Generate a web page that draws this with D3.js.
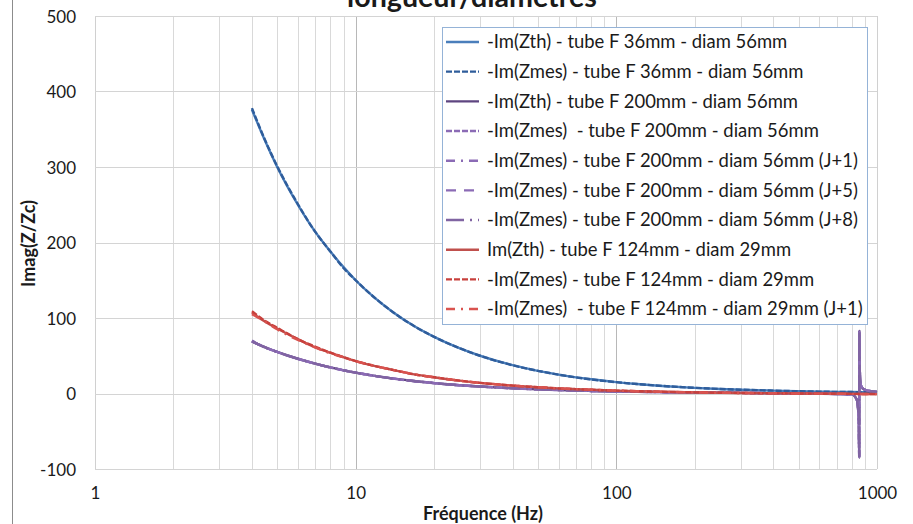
<!DOCTYPE html>
<html>
<head>
<meta charset="utf-8">
<script src="https://cdn.jsdelivr.net/npm/d3@7"></script>
<style>
  html, body { margin: 0; padding: 0; background: #fff; }
  svg { display: block; }
  text { font-family: Lato, "Open Sans", "Liberation Sans", sans-serif; fill: #1a1a1a; }
</style>
</head>
<body>
<svg id="chart" width="913" height="524"></svg>
<script>
// ---------- data ----------
const titleText = "longueur/diamètres";
const xLabel = "Fréquence (Hz)";
const yLabel = "Imag(Z/Zc)";
const xTicks = [1, 10, 100, 1000];
const yTicks = [-100, 0, 100, 200, 300, 400, 500];

// common frequency grid (Hz)
const freq = [4, 4.5, 5, 6, 7, 8, 9, 10, 12, 14, 17, 20, 25, 30, 40, 50, 60, 70, 80, 100, 120, 150, 200, 250, 300, 400, 500, 600, 700, 800, 1000];

// tube F 36mm - diam 56mm
const blueTh  = [376, 334, 300, 250, 214, 188, 167, 150, 125, 107, 88, 75, 60, 50, 37.5, 30, 25, 21.4, 18.8, 15, 12.5, 10, 7.5, 6, 5, 3.8, 3, 2.5, 2.1, 1.9, 1.5];
const blueMes = [378, 335, 301, 251, 214, 188, 166, 150, 125, 107, 88, 75, 60, 50, 37.4, 30, 25, 21.4, 18.7, 15, 12.5, 10, 7.5, 6, 5, 3.8, 3, 2.5, 2.1, 1.9, 1.5];

// tube F 124mm - diam 29mm
const redTh   = [107, 95, 86, 72, 61, 54, 48, 43, 36, 31, 25, 21.5, 17, 14, 10.5, 8.3, 6.8, 5.8, 5, 3.8, 3, 2.3, 1.5, 1, 0.7, 0.3, 0, -0.2, -0.3, -0.5, -0.8];
const redMes  = [109, 96, 87, 72, 62, 54, 48, 43, 36, 31, 25, 21.5, 17, 14, 10.5, 8.3, 6.8, 5.8, 5, 3.8, 3, 2.3, 1.5, 1, 0.7, 0.3, 0, -0.2, -0.3, -0.5, -0.8];
const redMes1 = [105, 95, 85, 71, 61, 53, 48, 43, 36, 31, 25, 21.5, 17, 14, 10.5, 8.3, 6.8, 5.8, 5, 3.8, 3, 2.3, 1.5, 1, 0.7, 0.3, 0, -0.2, -0.3, -0.5, -0.8];

// tube F 200mm - diam 56mm (with resonance near 855 Hz)
const freqP   = [4, 4.5, 5, 6, 7, 8, 9, 10, 12, 14, 17, 20, 25, 30, 40, 50, 60, 70, 80, 100, 120, 150, 200, 250, 300, 400, 500, 600, 700, 800, 836, 848, 852, 854.5, 855.5, 858, 866, 880, 900, 950, 1000];
const purpTh  = [69, 61, 55, 46, 39.5, 34.5, 30.7, 27.6, 23, 19.7, 16.2, 13.8, 11, 9.2, 6.9, 5.5, 4.6, 3.9, 3.4, 2.7, 2.3, 1.8, 1.3, 1, 0.8, 0.4, 0.1, -0.2, -0.6, -1.2, -8, -25, -45, -85, 83, 35, 12, 7, 5, 3, 2];
const purpMes = [70, 61, 55, 46, 39.5, 34.5, 30.7, 27.6, 23, 19.7, 16.2, 13.8, 11, 9.2, 6.9, 5.5, 4.6, 3.9, 3.4, 2.7, 2.3, 1.8, 1.3, 1, 0.8, 0.4, 0.1, -0.2, -0.6, -1.2, -8, -25, -45, -84, 82, 35, 12, 7, 5, 3, 2];
const purpJ1  = [69, 61, 55, 46, 39.5, 34.5, 30.7, 27.6, 23, 19.7, 16.2, 13.8, 11, 9.2, 6.9, 5.5, 4.6, 3.9, 3.4, 2.7, 2.3, 1.8, 1.3, 1, 0.8, 0.4, 0.1, -0.2, -0.6, -1.2, -8, -25, -45, -83, 81, 35, 12, 7, 5, 3, 2];
const purpJ5  = [69, 61, 55, 46, 39.5, 34.5, 30.7, 27.6, 23, 19.7, 16.2, 13.8, 11, 9.2, 6.9, 5.5, 4.6, 3.9, 3.4, 2.7, 2.3, 1.8, 1.3, 1, 0.8, 0.4, 0.1, -0.2, -0.6, -1.2, -8, -25, -45, -84, 82, 35, 12, 7, 5, 3, 2];
const purpJ8  = [69, 61, 55, 46, 39.5, 34.5, 30.7, 27.6, 23, 19.7, 16.2, 13.8, 11, 9.2, 6.9, 5.5, 4.6, 3.9, 3.4, 2.7, 2.3, 1.8, 1.3, 1, 0.8, 0.4, 0.1, -0.2, -0.6, -1.2, -8, -25, -45, -85, 83, 35, 12, 7, 5, 3, 2];

const seriesNames = [
  "-Im(Zth) - tube F 36mm - diam 56mm",
  "-Im(Zmes) - tube F 36mm - diam 56mm",
  "-Im(Zth) - tube F 200mm - diam 56mm",
  "-Im(Zmes)  - tube F 200mm - diam 56mm",
  "-Im(Zmes) - tube F 200mm - diam 56mm (J+1)",
  "-Im(Zmes) - tube F 200mm - diam 56mm (J+5)",
  "-Im(Zmes) - tube F 200mm - diam 56mm (J+8)",
  "Im(Zth) - tube F 124mm - diam 29mm",
  "-Im(Zmes) - tube F 124mm - diam 29mm",
  "-Im(Zmes)  - tube F 124mm - diam 29mm (J+1)"
];
const seriesX = [freq, freq, freqP, freqP, freqP, freqP, freqP, freq, freq, freq];
const seriesY = [blueTh, blueMes, purpTh, purpMes, purpJ1, purpJ5, purpJ8, redTh, redMes, redMes1];

// ---------- styles ----------
const seriesColor = ["#4A7EBB", "#2F5D9B", "#5E4580", "#8B6BB5", "#8B6BB5", "#8B6BB5", "#8064A2", "#C0504D", "#C8403C", "#D9534F"];
const seriesDash  = [null, "6,2", null, "6,2", "9,6,2,6", "10,8", "18,6,2,6", null, "6,2", "9,6,2,6"];

// ---------- layout ----------
const svg = d3.select("#chart");
const W = 913, H = 524;
const plot = { left: 95, right: 877, top: 16, bottom: 469 };

const x = d3.scaleLog().domain([1, 1000]).range([plot.left, plot.right]);
const y = d3.scaleLinear().domain([-100, 500]).range([plot.bottom, plot.top]);

function fit(sel, target) {
  const w = sel.node().getComputedTextLength();
  const fs = parseFloat(sel.attr("font-size"));
  sel.attr("font-size", fs * target / w);
  return fs * target / w;
}

// left border of chart area (cropped)
svg.append("line").attr("x1", 12.5).attr("x2", 12.5).attr("y1", 0).attr("y2", H)
  .attr("stroke", "#8c8c8c").attr("stroke-width", 1);

// grid
const g = svg.append("g");
const minorTicks = x.ticks().filter(v => !xTicks.includes(v));
g.selectAll("line.vmin").data(minorTicks).join("line")
  .attr("x1", d => Math.round(x(d)) + 0.5).attr("x2", d => Math.round(x(d)) + 0.5)
  .attr("y1", plot.top).attr("y2", plot.bottom)
  .attr("stroke", "#d9d9d9").attr("stroke-width", 1);
g.selectAll("line.vmaj").data(xTicks).join("line")
  .attr("x1", d => Math.round(x(d)) + 0.5).attr("x2", d => Math.round(x(d)) + 0.5)
  .attr("y1", plot.top).attr("y2", plot.bottom)
  .attr("stroke", d => (d === 1 || d === 1000) ? "#d0d0d0" : "#b8b8b8").attr("stroke-width", 1);
g.selectAll("line.h").data(yTicks).join("line")
  .attr("x1", plot.left).attr("x2", plot.right)
  .attr("y1", d => Math.round(y(d)) + 0.5).attr("y2", d => Math.round(y(d)) + 0.5)
  .attr("stroke", "#d4d4d4").attr("stroke-width", 1);

// axes (labels only, via d3 axes)
const yAxis = svg.append("g").attr("transform", `translate(${plot.left},0)`)
  .call(d3.axisLeft(y).tickValues(yTicks).tickSize(0).tickPadding(19).tickFormat(d => String(d)));
yAxis.select(".domain").remove();
yAxis.selectAll("text").attr("font-size", 17).attr("font-family", "Lato, sans-serif").attr("fill", "#1a1a1a").attr("dy", "0.36em");

const xAxis = svg.append("g").attr("transform", `translate(0,${plot.bottom})`)
  .call(d3.axisBottom(x).tickValues(xTicks).tickSize(0).tickPadding(18).tickFormat(d => String(d)));
xAxis.select(".domain").remove();
xAxis.selectAll("text").attr("font-size", 17).attr("font-family", "Lato, sans-serif").attr("fill", "#1a1a1a");

// series lines
const line = d3.line().x(d => x(d[0])).y(d => y(d[1])).curve(d3.curveMonotoneX);
const lines = svg.append("g");
seriesNames.forEach((name, i) => {
  const pts = seriesX[i].map((f, k) => [f, seriesY[i][k]]);
  lines.append("path").datum(pts)
    .attr("d", line)
    .attr("fill", "none")
    .attr("stroke", seriesColor[i])
    .attr("stroke-width", 2.4)
    .attr("stroke-dasharray", seriesDash[i])
    .attr("stroke-linejoin", "round");
});

// title (cropped at top, as in the reference)
const title = svg.append("text").attr("x", 472).attr("y", 7).attr("text-anchor", "middle")
  .attr("font-size", 24).attr("font-weight", "bold").text(titleText);
fit(title, 250);

// axis titles
const xt = svg.append("text").attr("x", 483).attr("y", 520).attr("text-anchor", "middle")
  .attr("font-size", 16).attr("font-weight", "bold").text(xLabel);
fit(xt, 120);
const yt = svg.append("text").attr("transform", "translate(35,243.5) rotate(-90)")
  .attr("text-anchor", "middle").attr("font-size", 16).attr("font-weight", "bold").text(yLabel);
fit(yt, 87);

// legend
const leg = svg.append("g");
leg.append("rect").attr("x", 442.5).attr("y", 27.5).attr("width", 425).attr("height", 297)
  .attr("fill", "#fff").attr("stroke", "#95B3D7").attr("stroke-width", 1);
const rowH = 29.67, row0 = 42;
const items = leg.selectAll("g.item").data(seriesNames).join("g")
  .attr("transform", (d, i) => `translate(0,${row0 + i * rowH})`);
items.append("line").attr("x1", 446).attr("x2", 479).attr("y1", 0).attr("y2", 0)
  .attr("stroke", (d, i) => seriesColor[i]).attr("stroke-width", 2.4)
  .attr("stroke-dasharray", (d, i) => seriesDash[i]);
const labels = items.append("text").attr("x", 487).attr("y", 0).attr("dy", "0.35em")
  .attr("font-size", 17).attr("xml:space", "preserve").style("white-space", "pre").text(d => d);
const longest = d3.select(labels.nodes()[9]);
const fs = fit(longest, 376);
labels.attr("font-size", fs);
</script>
</body>
</html>
